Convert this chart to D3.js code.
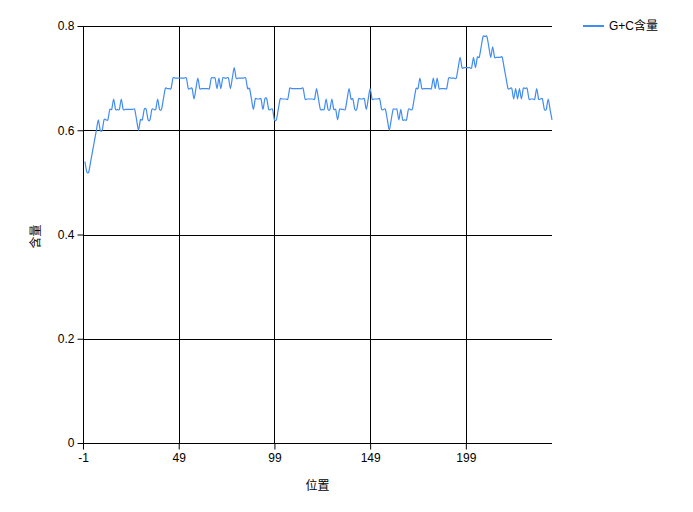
<!DOCTYPE html>
<html>
<head>
<meta charset="utf-8">
<script src="https://cdn.jsdelivr.net/npm/d3@7"></script>
<style>
    body { margin: 0; background: #fff; }
    text { font-family: "Liberation Sans", "Noto Sans CJK SC", sans-serif; font-size: 12px; fill: #000; }
</style>
</head>
<body>
<div id="chart"></div>
<script>

// G+C content per window position (index 0..244)
let gcValues = [
    .54,.52,.52,.54,.56,.58,.60,.62,.60,.60,
    .62,.62,.62,.64,.64,.66,.64,.64,.64,.66,
    .64,.64,.64,.64,.64,.64,.64,.62,.60,.62,
    .62,.64,.64,.62,.62,.64,.64,.64,.66,.64,
    .64,.66,.68,.68,.68,.68,.70,.70,.70,.70,
    .70,.70,.70,.70,.68,.68,.68,.66,.68,.70,
    .68,.68,.68,.68,.68,.68,.70,.70,.70,.68,
    .70,.68,.70,.70,.70,.70,.68,.70,.72,.70,
    .70,.70,.70,.70,.70,.68,.68,.66,.64,.66,
    .66,.66,.66,.64,.66,.66,.64,.64,.64,.62,
    .62,.64,.66,.66,.66,.66,.66,.68,.68,.68,
    .68,.68,.68,.68,.68,.66,.66,.66,.66,.66,
    .66,.68,.66,.64,.64,.64,.66,.64,.64,.66,
    .64,.64,.62,.64,.64,.64,.64,.66,.68,.66,
    .66,.64,.64,.66,.66,.66,.66,.64,.66,.68,
    .66,.66,.66,.66,.66,.64,.64,.64,.62,.60,
    .62,.64,.64,.64,.62,.64,.62,.62,.62,.64,
    .64,.64,.66,.68,.68,.70,.68,.68,.68,.68,
    .68,.68,.70,.68,.70,.68,.68,.68,.68,.68,
    .70,.70,.70,.70,.70,.72,.74,.72,.72,.72,
    .72,.72,.72,.74,.72,.74,.74,.76,.78,.78,
    .78,.76,.74,.76,.74,.74,.74,.74,.74,.72,
    .70,.68,.68,.68,.66,.68,.66,.68,.66,.68,
    .68,.68,.66,.66,.66,.66,.68,.66,.66,.66,
    .64,.64,.66,.64,.62
];

let xTicks = [-1, 49, 99, 149, 199];
let yTicks = [0, 0.2, 0.4, 0.6, 0.8];
let xDomain = [-1, 244];
let yDomain = [0, 0.8];

let seriesName = "G+C含量";
let xTitle = "位置";
let yTitle = "含量";

let width = 693, height = 512;
let margin = {top: 26, right: 141, bottom: 69, left: 83};

let svg = d3.select("#chart").append("svg")
    .attr("width", width)
    .attr("height", height);

let x = d3.scaleLinear()
    .domain(xDomain)
    .range([margin.left, width - margin.right]);

let y = d3.scaleLinear()
    .domain(yDomain)
    .range([height - margin.bottom, margin.top]);

// horizontal grid lines
svg.append("g")
    .selectAll("line")
    .data(yTicks.filter(d => d > 0))
    .enter().append("line")
    .attr("x1", x(xDomain[0]))
    .attr("x2", x(xDomain[1]))
    .attr("y1", d => Math.round(y(d)) + 0.5)
    .attr("y2", d => Math.round(y(d)) + 0.5)
    .attr("stroke", "#000");

// vertical grid lines
svg.append("g")
    .selectAll("line")
    .data(xTicks.filter(d => d > xDomain[0]))
    .enter().append("line")
    .attr("x1", d => Math.round(x(d)) + 0.5)
    .attr("x2", d => Math.round(x(d)) + 0.5)
    .attr("y1", y(yDomain[1]))
    .attr("y2", y(yDomain[0]))
    .attr("stroke", "#000");

// axes (plain hyphen for negatives, like the original)
let xAxis = d3.axisBottom(x)
    .tickValues(xTicks)
    .tickSize(6)
    .tickPadding(4)
    .tickFormat(d => String(d));

let yAxis = d3.axisLeft(y)
    .tickValues(yTicks)
    .tickSize(6)
    .tickPadding(3)
    .tickFormat(d => d === 0 ? "0" : d3.format(".1f")(d));

svg.append("g")
    .attr("transform", `translate(0, ${Math.round(y(0)) + 0.5})`)
    .call(xAxis)
    .call(g => g.select(".domain").attr("d", `M${x(xDomain[0])},0H${x(xDomain[1])}`).attr("stroke", "#000"))
    .call(g => g.selectAll("text").style("font-size", "12px").style("font-family", null));

svg.append("g")
    .attr("transform", `translate(${Math.round(x(-1)) + 0.5}, 0)`)
    .call(yAxis)
    .call(g => g.select(".domain").attr("d", `M0,${y(yDomain[1])}V${y(yDomain[0])}`).attr("stroke", "#000"))
    .call(g => g.selectAll("text").style("font-size", "12px").style("font-family", null));

svg.selectAll(".tick line").attr("stroke", "#000");

// series line
let line = d3.line()
    .x((d, i) => x(i))
    .y(d => y(d))
    .curve(d3.curveCardinal.tension(0.2));

svg.append("path")
    .datum(gcValues)
    .attr("fill", "none")
    .attr("stroke", "#418CF0")
    .attr("stroke-width", 1.2)
    .attr("d", line);

// axis titles
svg.append("text")
    .attr("x", (x(xDomain[0]) + x(xDomain[1])) / 2)
    .attr("y", 490)
    .attr("text-anchor", "middle")
    .text(xTitle);

svg.append("text")
    .attr("transform", `translate(40, ${y(0.4) + 2}) rotate(-90)`)
    .attr("text-anchor", "middle")
    .text(yTitle);

// legend
let legend = svg.append("g")
    .attr("transform", "translate(583, 26)");

legend.append("line")
    .attr("x1", 0)
    .attr("x2", 21)
    .attr("y1", 0)
    .attr("y2", 0)
    .attr("stroke", "#418CF0")
    .attr("stroke-width", 2);

legend.append("text")
    .attr("x", 26)
    .attr("y", 4)
    .text(seriesName);

</script>
</body>
</html>
